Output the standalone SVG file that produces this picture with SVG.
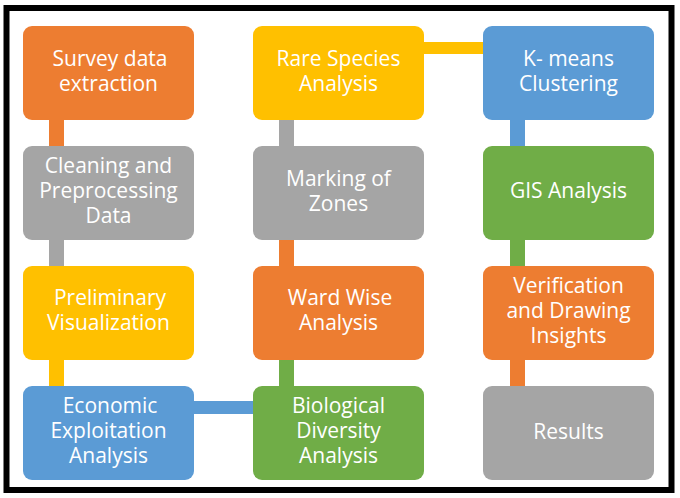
<svg xmlns="http://www.w3.org/2000/svg" width="680" height="498" viewBox="0 0 680 498">
<style>
.box{stroke:none}
.or{fill:#ED7D31}.gr{fill:#A5A5A5}.ye{fill:#FFC000}.bl{fill:#5B9BD5}.gn{fill:#70AD47}
text{font-family:"Open Sans","Noto Sans",sans-serif;font-size:21px;fill:#ffffff;text-anchor:middle}
</style>
<rect x="0" y="0" width="680" height="498" fill="#ffffff"/>
<rect x="6.5" y="8" width="665" height="482" fill="none" stroke="#000" stroke-width="6"/>
<g id="connectors">
<rect class="or" x="49" y="118" width="15" height="30"/>
<rect class="gr" x="49" y="238" width="15" height="30"/>
<rect class="ye" x="49" y="358" width="15" height="30"/>
<rect class="bl" x="192" y="401" width="63" height="13"/>
<rect class="gn" x="279" y="358" width="15" height="30"/>
<rect class="or" x="279" y="238" width="15" height="30"/>
<rect class="gr" x="279" y="118" width="15" height="30"/>
<rect class="ye" x="422" y="42" width="63" height="12"/>
<rect class="bl" x="510" y="118" width="15" height="30"/>
<rect class="gn" x="510" y="238" width="15" height="30"/>
<rect class="or" x="510" y="358" width="15" height="30"/>
</g>
<g id="survey"><rect class="box or" x="23" y="26" width="171" height="94" rx="9"/><text x="110" y="66">Survey data</text><text x="108.5" y="91">extraction</text></g>
<g id="cleaning"><rect class="box gr" x="23" y="146" width="171" height="94" rx="9"/><text x="108.5" y="173">Cleaning and</text><text x="108.5" y="198">Preprocessing</text><text x="108.5" y="223">Data</text></g>
<g id="preliminary"><rect class="box ye" x="23" y="266" width="171" height="94" rx="9"/><text x="110" y="305">Preliminary</text><text x="108.5" y="330">Visualization</text></g>
<g id="economic"><rect class="box bl" x="23" y="386" width="171" height="94" rx="9"/><text x="110" y="413">Economic</text><text x="108.5" y="438">Exploitation</text><text x="108.5" y="463">Analysis</text></g>
<g id="rare"><rect class="box ye" x="253" y="26" width="171" height="94" rx="9"/><text x="338.5" y="66">Rare Species</text><text x="338.5" y="91">Analysis</text></g>
<g id="marking"><rect class="box gr" x="253" y="146" width="171" height="94" rx="9"/><text x="338.5" y="186">Marking of</text><text x="338.5" y="211">Zones</text></g>
<g id="ward"><rect class="box or" x="253" y="266" width="171" height="94" rx="9"/><text x="340" y="305">Ward Wise</text><text x="338.5" y="330">Analysis</text></g>
<g id="biological"><rect class="box gn" x="253" y="386" width="171" height="94" rx="9"/><text x="338.5" y="413">Biological</text><text x="338.5" y="438">Diversity</text><text x="338.5" y="463">Analysis</text></g>
<g id="kmeans"><rect class="box bl" x="483" y="26" width="171" height="94" rx="9"/><text x="568.5" y="66">K- means</text><text x="568.5" y="91">Clustering</text></g>
<g id="gis"><rect class="box gn" x="483" y="146" width="171" height="94" rx="9"/><text x="568.5" y="198">GIS Analysis</text></g>
<g id="verification"><rect class="box or" x="483" y="266" width="171" height="94" rx="9"/><text x="568.5" y="293">Verification</text><text x="568.5" y="318">and Drawing</text><text x="568.5" y="343">Insights</text></g>
<g id="results"><rect class="box gr" x="483" y="386" width="171" height="94" rx="9"/><text x="568.5" y="439">Results</text></g>
</svg>
